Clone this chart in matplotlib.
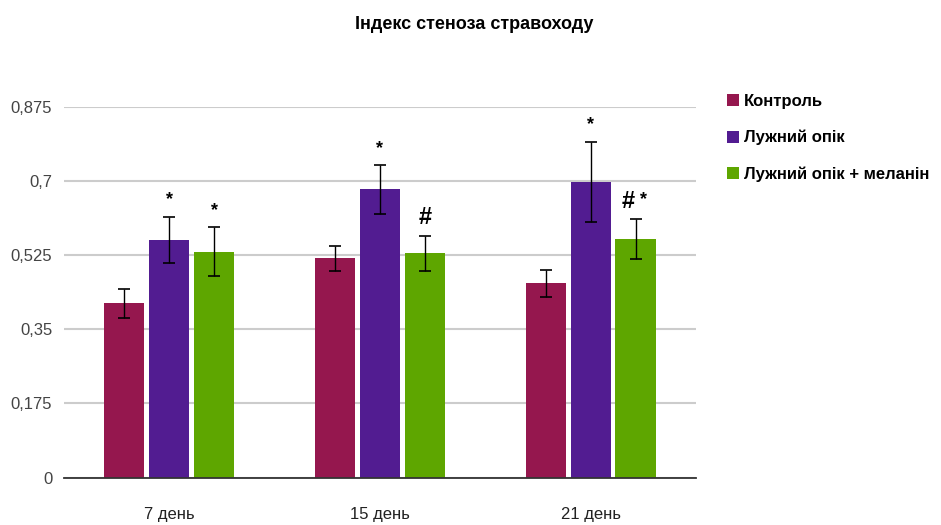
import matplotlib
matplotlib.use("Agg")
import matplotlib.pyplot as plt
import numpy as np

# --- data -------------------------------------------------------------
days = ["7 день", "15 день", "21 день"]
series_names = ["Контроль", "Лужний опік", "Лужний опік + меланін"]

control = [0.411, 0.517, 0.459]
control_err = [0.034, 0.029, 0.032]

alkali_burn = [0.561, 0.680, 0.697]
alkali_burn_err = [0.055, 0.057, 0.095]

burn_melanin = [0.533, 0.529, 0.562]
burn_melanin_err = [0.058, 0.041, 0.047]

yticks = [0, 0.175, 0.35, 0.525, 0.7, 0.875]
ytick_labels = ["0", "0,175", "0,35", "0,525", "0,7", "0,875"]

# significance marks: (day index, series index, symbols)
marks = [
    (0, 1, "*"), (0, 2, "*"),
    (1, 1, "*"), (1, 2, "#"),
    (2, 1, "*"), (2, 2, "#*"),
]

# --- style ------------------------------------------------------------
plt.rcParams["font.family"] = ["Liberation Sans", "DejaVu Sans"]

colors = ["#95174E", "#521C91", "#5EA600"]

fig = plt.figure(figsize=(9.41, 5.25), dpi=100)
ax = fig.add_axes([0.068, 0.0901, 0.6716, 0.7067])

x = np.arange(len(days))
width = 0.19
step = 0.213

values = [control, alkali_burn, burn_melanin]
errors = [control_err, alkali_burn_err, burn_melanin_err]

for i, (vals, errs, col, name) in enumerate(zip(values, errors, colors, series_names)):
    pos = x + (i - 1) * step
    ax.bar(pos, vals, width, color=col, label=name, zorder=3)
    ax.errorbar(pos, vals, yerr=errs, fmt="none", ecolor="black",
                elinewidth=1.0, capsize=4.5, capthick=1.2, zorder=4)

# significance symbols above error bars
star_kw = dict(textcoords="offset points", ha="center", va="baseline",
               fontsize=13, fontweight="bold", zorder=5)
hash_kw = dict(textcoords="offset points", ha="center", va="baseline",
               fontsize=17, fontweight="bold", zorder=5)
for d, s, sym in marks:
    xc = x[d] + (s - 1) * step
    top = values[s][d] + errors[s][d]
    if sym == "#*":
        ax.annotate("#", (xc, top), xytext=(-5, 8), **hash_kw)
        ax.annotate("*", (xc, top), xytext=(6, 11), **star_kw)
    elif sym == "#":
        ax.annotate("#", (xc, top), xytext=(0, 9), **hash_kw)
    else:
        ax.annotate("*", (xc, top), xytext=(0, 9), **star_kw)

ax.set_xlim(-0.5, 2.5)
ax.set_ylim(0, 0.875)
ax.set_xticks(x)
ax.set_xticklabels(days, fontsize=12, color="#222222")
ax.set_yticks(yticks)
ax.set_yticklabels(ytick_labels, fontsize=12, color="#444444")
ax.tick_params(axis="both", length=0)
ax.tick_params(axis="x", pad=21)
ax.tick_params(axis="y", pad=8.5)

ax.yaxis.grid(True, color="#cccccc", linewidth=1.5, zorder=0)
ax.set_axisbelow(True)
for side in ["top", "right", "left"]:
    ax.spines[side].set_visible(False)
ax.spines["bottom"].set_color("#333333")
ax.spines["bottom"].set_linewidth(1.3)
ax.spines["bottom"].set_zorder(6)

fig.text(0.504, 0.953, "Індекс стеноза стравоходу",
         ha="center", va="center", fontsize=13, fontweight="bold")

leg = ax.legend(loc="upper left", bbox_to_anchor=(1.038, 1.052), frameon=False,
                prop={"size": 12, "weight": "bold"}, handlelength=0.72,
                handleheight=0.72, handletextpad=0.3, labelspacing=1.25,
                borderaxespad=0)

fig.savefig("out.png", dpi=100)
